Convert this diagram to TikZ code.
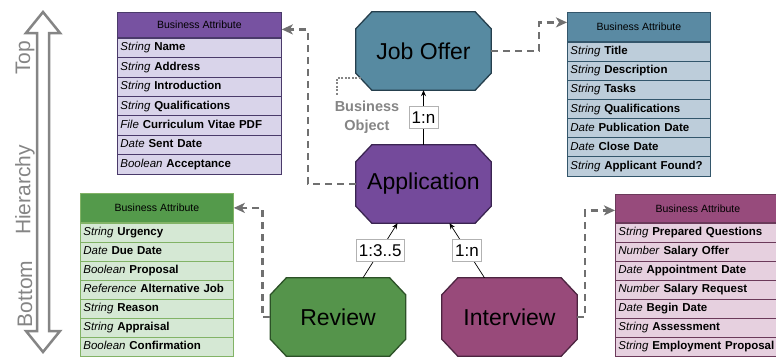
\documentclass[tikz,border=0pt]{standalone}
\usepackage{fontspec}
\setmainfont{Liberation Sans}
\usetikzlibrary{arrows.meta,backgrounds,calc}

\definecolor{jobfill}{HTML}{578AA1}
\definecolor{jobline}{HTML}{253F4D}
\definecolor{appfill}{HTML}{744A9B}
\definecolor{appline}{HTML}{3A2451}
\definecolor{revfill}{HTML}{55944B}
\definecolor{revline}{HTML}{2C5127}
\definecolor{intfill}{HTML}{984A7A}
\definecolor{intline}{HTML}{4C2440}
\definecolor{purphead}{HTML}{7752A1}
\definecolor{purprow}{HTML}{D9D4EA}
\definecolor{purpline}{HTML}{4A3A6A}
\definecolor{bluehead}{HTML}{5A8AA3}
\definecolor{bluerow}{HTML}{BDCDDA}
\definecolor{blueline}{HTML}{33566B}
\definecolor{greenhead}{HTML}{549A4B}
\definecolor{greenrow}{HTML}{D5E8D4}
\definecolor{greenline}{HTML}{82B366}
\definecolor{pinkhead}{HTML}{974B7C}
\definecolor{pinkrow}{HTML}{E6D0DF}
\definecolor{pinkline}{HTML}{6B3A5A}
\definecolor{connector}{HTML}{707070}
\definecolor{hiergray}{HTML}{858585}

% Attribute table: #1 name, #2 top-left, #3 width (number), #4 header height,
% #5 colour prefix, #6 rows (type/name), #7 row height
\newcommand\attrtable[7]{%
  \pgfmathsetmacro\attrtw{#3-6}%
  \node[hdr, minimum width=#3pt, minimum height=#4pt, fill=#5head, draw=#5line]
    (#1-h) at (#2) {Business Attribute};
  \foreach \ty/\nm [count=\i] in {#6} {
    \node[attr, text width=\attrtw pt, minimum height=#7pt, fill=#5row, draw=#5line]
      (#1-\i) at ($(#1-h.south west)+(0,{(\i-1)*#7})$) {\textit{\ty} \textbf{\nm}};
  }
}

% Chamfered outline drawn behind an entity node
\newcommand\octpath[3]{%
  \path[fill=#2, draw=#3, line width=1.3pt]
    ([xshift=16pt]#1.north west) -- ([xshift=-16pt]#1.north east)
    -- ([yshift=-17pt]#1.north east) -- ([yshift=17pt]#1.south east)
    -- ([xshift=-16pt]#1.south east) -- ([xshift=16pt]#1.south west)
    -- ([yshift=17pt]#1.south west) -- ([yshift=-17pt]#1.north west) -- cycle;
}

\begin{document}
\begin{tikzpicture}[x=1pt, y=-1pt,
  entity/.style={minimum width=135pt, minimum height=78pt, inner sep=0pt,
    font=\fontsize{23}{27}\selectfont, text=black},
  hdr/.style={draw, anchor=north west, inner sep=0pt, line width=0.8pt,
    font=\fontsize{10.5}{12}\selectfont},
  attr/.style={draw, anchor=north west, inner xsep=3pt, inner ysep=0pt, align=left,
    line width=0.8pt, text height=8.5pt, text depth=2.5pt,
    font=\fontsize{11.5}{13}\selectfont},
  dashconn/.style={draw=connector, line width=2.5pt, dash pattern=on 7pt off 5pt,
    -{Stealth[length=11pt, width=10pt, inset=3pt]}},
  dotconn/.style={draw=hiergray, line width=2pt, dash pattern=on 2pt off 1.5pt},
  relation/.style={draw=black, line width=0.7pt, -{Stealth[length=6pt, width=5pt]}},
  card/.style={fill=white, draw=black!30, line width=0.6pt, inner xsep=2.5pt,
    inner ysep=4pt, text height=12.5pt, text depth=1.5pt,
    font=\fontsize{17}{20}\selectfont},
  hier/.style={rotate=90, text=hiergray, font=\fontsize{21}{25}\selectfont}
]
\useasboundingbox (0,0) rectangle (776,356);
\clip (0,0) rectangle (776,356);

% hierarchy scale on the left
\path[draw=hiergray, line width=2.5pt, fill=white, line join=miter]
  (43,12) -- (60,33) -- (49,33) -- (49,331) -- (60,331) -- (43,352)
  -- (26,331) -- (37,331) -- (37,33) -- (26,33) -- cycle;
\node[hier] (lvl-top) at (25,58) {Top};
\node[hier] (lvl-mid) at (25,190) {Hierarchy};
\node[hier] (lvl-bot) at (25,294) {Bottom};

% attribute tables
\attrtable{pa}{117,12}{164}{25}{purp}{String/Name, String/Address, String/Introduction,
  String/Qualifications, File/Curriculum Vitae PDF, Date/Sent Date, Boolean/Acceptance}{19.4}
\attrtable{ba}{567,12}{143}{29}{blue}{String/Title, String/Description, String/Tasks,
  String/Qualifications, Date/Publication Date, Date/Close Date, String/Applicant Found?}{19.1}
\attrtable{ga}{80,193}{153}{29}{green}{String/Urgency, Date/Due Date, Boolean/Proposal,
  Reference/Alternative Job, String/Reason, String/Appraisal, Boolean/Confirmation}{19}
\attrtable{ka}{615,194}{165}{28}{pink}{String/Prepared Questions, Number/Salary Offer,
  Date/Appointment Date, Number/Salary Request, Date/Begin Date, String/Assessment,
  String/Employment Proposal}{19}

% business objects
\node[entity] (job) at (423.5,51) {Job Offer};
\node[entity] (app) at (423.5,184) {Application};
\node[entity] (rev) at (338,317) {Review};
\node[entity] (int) at (509.5,317) {Interview};

\begin{scope}[on background layer]
  \octpath{job}{jobfill}{jobline}
  \octpath{app}{appfill}{appline}
  \octpath{rev}{revfill}{revline}
  \octpath{int}{intfill}{intline}
\end{scope}

% "Business Object" annotation
\node[text=hiergray, align=center, inner sep=0pt,
  font=\bfseries\fontsize{14.5}{19}\selectfont] (bo) at (367,117.5) {Business\\Object};
\coordinate (bo-tip) at (337,95);
\draw[dotconn] ([xshift=5pt, yshift=12pt]job.south west) -| (bo-tip);

% relations between business objects
\draw[relation] (app.north) -- node[card] (c1) {1:n} (job.south);
\draw[relation] ([xshift=25pt]rev.north) -- node[card] (c2) {1:3..5} ([xshift=-26pt]app.south);
\draw[relation] ([xshift=-25pt]int.north) -- node[card] (c3) {1:n} ([xshift=26pt]app.south);

% links to attribute tables
\draw[dashconn] (app.west) -- ++(-48,0) |- ([yshift=-4.5pt]pa-h.east);
\draw[dashconn] (job.east) -- ++(48,0) |- ([yshift=4.5pt]ba-h.west);
\draw[dashconn] (rev.west) -- ++(-8,0) |- (ga-h.east);
\draw[dashconn] (int.east) -- ++(8,0) |- ([yshift=-2pt]ka-h.west);
\end{tikzpicture}
\end{document}
